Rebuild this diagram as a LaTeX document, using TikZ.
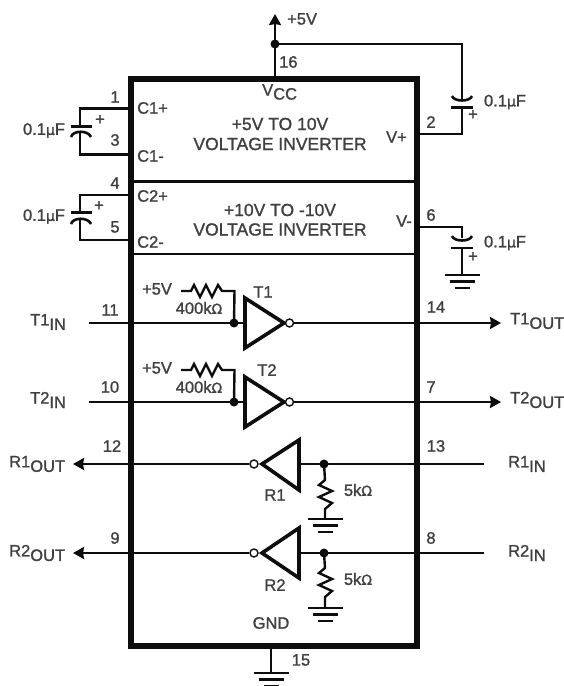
\documentclass[tikz,border=0pt]{standalone}
\usepackage{fontspec}
\setmainfont[FakeBold=1.2]{Liberation Sans}
\newfontfamily\symf[FakeBold=1.2]{DejaVu Sans}
\usetikzlibrary{arrows.meta}
\definecolor{ink}{gray}{0.05}
\definecolor{txt}{gray}{0.25}
\tikzset{
 x=1pt,y=-1pt,
 wire/.style={draw=ink,line width=2.4pt},
 plate/.style={draw=ink,line width=3pt},
 curved/.style={draw=ink,line width=2.6pt},
 gate/.style={draw=ink,line width=3.6pt,line join=miter},
 bubble/.style={circle,draw=ink,line width=1.4pt,fill=white,minimum size=8pt,inner sep=0pt},
 junction/.style={circle,fill=ink,minimum size=9pt,inner sep=0pt},
 lab/.style={text=txt,font=\fontsize{16.5}{16.5}\selectfont,inner sep=0pt},
 big/.style={text=txt,font=\fontsize{17.5}{17.5}\selectfont,inner sep=0pt},
 sig/.style={text=txt,font=\fontsize{16.5}{16.5}\selectfont,inner sep=0pt},
 arr/.style={-{Stealth[length=11pt,width=12pt,inset=1pt]}},
 gndl/.style={draw=ink,line width=2.8pt},
}
\newcommand{\gnd}[2]{%
 \draw[gndl] (#1-17.5,#2) -- (#1+17.5,#2);
 \draw[gndl] (#1-12.5,#2+6.5) -- (#1+12.5,#2+6.5);
 \draw[gndl] (#1-7.5,#2+13) -- (#1+7.5,#2+13);}
\newcommand{\ohm}{{\symf\fontsize{14}{14}\selectfont Ω}}
\newcommand{\mic}{{\symf\fontsize{14}{14}\selectfont µ}}
\newcommand{\lowr}[1]{\raisebox{-4.5pt}{#1}}
\begin{document}
\begin{tikzpicture}
\useasboundingbox (0,0) rectangle (563,686);
\fill[white] (0,0) rectangle (563,686);
% wires behind the box
\coordinate (vtop) at (275,14);
\node[junction] (vdot) at (275,44) {};
\coordinate (vbox) at (275,79);
\coordinate (topr) at (462,44);
\coordinate (cap2t) at (462,99);
\coordinate (cap2b) at (462,107);
\coordinate (pin2c) at (462,134);
\coordinate (pin2) at (416,134);
\draw[wire,arr] (vbox) -- (vtop);
\draw[wire] (vdot.center) -- (topr) -- (cap2t);
\draw[wire] (cap2b) -- (pin2c) -- (pin2);
\draw[plate] (451,107) -- (473,107);
\draw[curved] (452,96) .. controls (454,102) and (470,102) .. (472,96);
% box
\draw[ink,line width=6pt] (131,79) rectangle (416.5,645.5);
\draw[ink,line width=2.6pt] (131,181.5) -- (416.5,181.5);
\draw[ink,line width=2.6pt] (131,254) -- (416.5,254);
% left caps
\draw[wire] (131,108.5) -- (80,108.5) -- (80,126);
\draw[wire] (80,132) -- (80,154.5) -- (131,154.5);
\draw[plate] (71,126) -- (92,126);
\draw[curved] (71,137) .. controls (73,130) and (88,130) .. (91,137);
\draw[wire] (131,195) -- (80,195) -- (80,212);
\draw[wire] (80,218) -- (80,240) -- (131,240);
\draw[plate] (71,212) -- (92,212);
\draw[curved] (71,224) .. controls (73,217) and (88,217) .. (91,224);
% V- cap
\draw[wire] (416,227) -- (462,227) -- (462,238);
\draw[curved] (452,236) .. controls (454,242) and (470,242) .. (472,236);
\draw[plate,line width=2.2pt] (451,248) -- (473,248);
\draw[wire] (462,248) -- (462,275);
\gnd{462}{275}
% T1
\node[junction] (d1) at (234,323) {};
\draw[wire] (89,323) -- (245,323);
\draw[gate] (245,298) -- (284,323) -- (245,348) -- cycle;
\node[bubble] (b1) at (289.5,323) {};
\draw[wire,arr] (b1) -- (501,323);
\draw[wire] (181,291) -- (191,291) -- (194,285) -- (200,297) -- (206,285) -- (212,297) -- (218,285) -- (222,291) -- (234.5,291) -- (d1.center);
% T2
\node[junction] (d2) at (234,402) {};
\draw[wire] (89,402) -- (245,402);
\draw[gate] (245,377) -- (284,402) -- (245,427) -- cycle;
\node[bubble] (b2) at (289.5,402) {};
\draw[wire,arr] (b2) -- (501,402);
\draw[wire] (181,370) -- (191,370) -- (194,364) -- (200,376) -- (206,364) -- (212,376) -- (218,364) -- (222,370) -- (234.5,370) -- (d2.center);
% R1
\node[junction] (d3) at (324,464) {};
\draw[wire] (299,464) -- (484,464);
\draw[gate] (299,440) -- (262,464) -- (299,490) -- cycle;
\node[bubble] (b3) at (254,464) {};
\draw[wire,arr] (b3) -- (73,464);
\draw[wire] (d3.center) -- (325,480) -- (319,485) -- (332,491) -- (319,497) -- (332,503) -- (325,509) -- (325,519);
\gnd{325}{519}
% R2
\node[junction] (d4) at (324,553) {};
\draw[wire] (299,553) -- (484,553);
\draw[gate] (299,528) -- (262,553) -- (299,578) -- cycle;
\node[bubble] (b4) at (254,553) {};
\draw[wire,arr] (b4) -- (73,553);
\draw[wire] (d4.center) -- (325,568) -- (319,573) -- (332,579) -- (319,585) -- (332,591) -- (325,597) -- (325,608);
\gnd{325}{608}
% GND
\draw[wire] (271,645) -- (271,673);
\gnd{271}{673}
% texts
\node[lab,anchor=west] at (287,19) {+5V};
\node[lab,anchor=west] at (279,62) {16};
\node[lab,anchor=west] (vcc) at (262,92) {V\raisebox{-4pt}{CC}};
\node[big] at (280,124) {+5V TO 10V};
\node[big] at (280,144) {VOLTAGE INVERTER};
\node[big] at (280,210) {+10V TO -10V};
\node[big] at (280,229.5) {VOLTAGE INVERTER};
\node[lab] at (115,97) {1};
\node[lab] at (115,140) {3};
\node[lab] at (115,183) {4};
\node[lab] at (115,227) {5};
\node[lab,anchor=west] at (137,108) {C1+};
\node[lab,anchor=west] at (137,156) {C1-};
\node[lab,anchor=west] at (137,196) {C2+};
\node[lab,anchor=west] at (137,242) {C2-};
\node[lab] at (100,120) {+};
\node[lab] at (99,206) {+};
\node[lab] at (473,115) {+};
\node[lab] at (473,257) {+};
\node[lab] at (44,130.5) {0.1\mic F};
\node[lab] at (44,216.5) {0.1\mic F};
\node[lab] at (505,102) {0.1\mic F};
\node[lab] at (505,243) {0.1\mic F};
\node[lab,anchor=east] at (407,137) {V+};
\node[lab,anchor=east] at (412,221) {V-};
\node[lab] at (431,122) {2};
\node[lab] at (431,215) {6};
\node[lab] at (110,310) {11};
\node[lab] at (110,387) {10};
\node[lab] at (112,446) {12};
\node[lab] at (115,538) {9};
\node[lab] at (436,307) {14};
\node[lab] at (431,387) {7};
\node[lab] at (436,446) {13};
\node[lab] at (431,538) {8};
\node[lab] at (157,289) {+5V};
\node[lab] at (157,368) {+5V};
\node[lab] at (199,308) {400k\ohm};
\node[lab] at (199,387) {400k\ohm};
\node[lab] at (263,292) {T1};
\node[lab] at (267,370) {T2};
\node[lab] at (275,495) {R1};
\node[lab] at (275,585) {R2};
\node[lab] at (358,490) {5k\ohm};
\node[lab] at (358,579) {5k\ohm};
\node[lab] at (271,623) {GND};
\node[lab] at (301,660) {15};
\node[sig,anchor=west] at (30,322) {T1\lowr{IN}};
\node[sig,anchor=west] at (30,400) {T2\lowr{IN}};
\node[sig,anchor=west] at (9,464) {R1\lowr{OUT}};
\node[sig,anchor=west] at (9,553) {R2\lowr{OUT}};
\node[sig,anchor=west] at (510,321) {T1\lowr{OUT}};
\node[sig,anchor=west] at (510,400) {T2\lowr{OUT}};
\node[sig,anchor=west] at (508,464) {R1\lowr{IN}};
\node[sig,anchor=west] at (508,553) {R2\lowr{IN}};
\end{tikzpicture}
\end{document}
